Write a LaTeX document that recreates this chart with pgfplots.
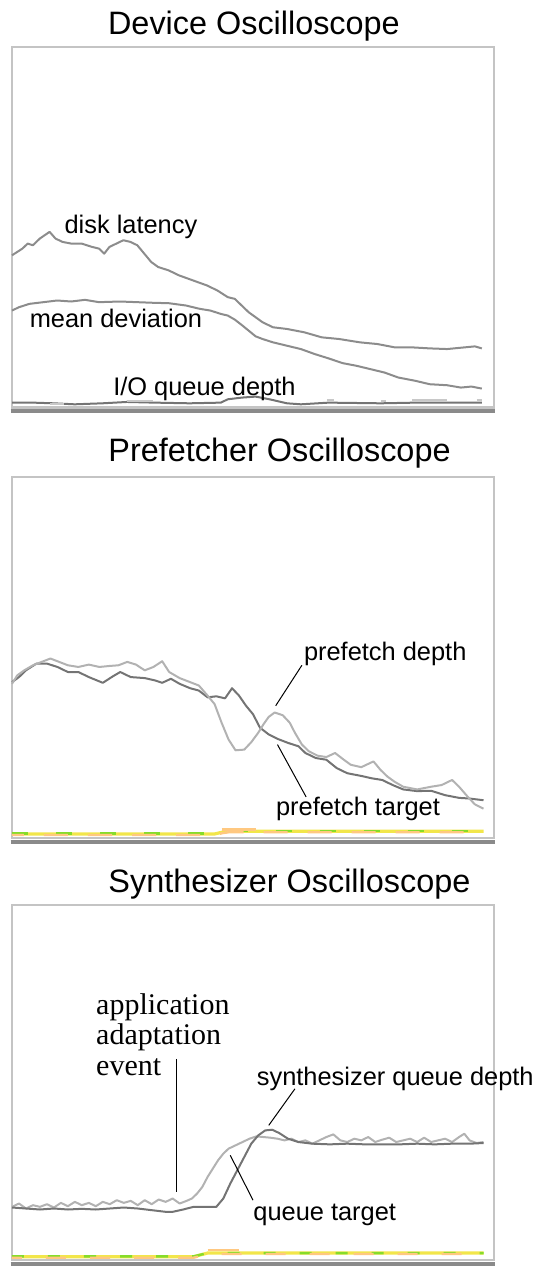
\documentclass[border=0pt]{standalone}
\usepackage{pgfplots}
\pgfplotsset{compat=1.18}
\usepackage{fontspec}
\setmainfont{Liberation Sans}
\newfontfamily\serifont{Liberation Serif}
\definecolor{framegray}{HTML}{C4C4C4}
\definecolor{darkframe}{HTML}{8A8A8A}
\definecolor{cdark}{HTML}{747474}
\definecolor{cmid}{HTML}{8C8C8C}
\definecolor{clight}{HTML}{B2B2B2}
\definecolor{cfaint}{HTML}{C8C8C8}
\definecolor{sy}{HTML}{F2E64A}
\definecolor{sg}{HTML}{86DC2A}
\definecolor{so}{HTML}{FFC880}
\newcommand\lab{\fontsize{12.7}{15}\selectfont}
\newcommand\ttl{\fontsize{16.2}{19}\selectfont}
\pgfplotsset{osc/.style={hide axis, scale only axis, width=241pt, clip=false, y dir=reverse, anchor=north west},
  curve/.style={line width=1pt, line join=round, mark=none}}
\begin{document}
\begin{tikzpicture}
\useasboundingbox (0,0) rectangle (272.5pt,-634pt);
% ---------------- Panel 1
\begin{axis}[osc, at={(6pt,-23.5pt)}, height=182pt, xmin=40, xmax=1425, ymin=148, ymax=1235, unbounded coords=jump]
\draw[framegray, line width=1.2pt] (axis cs:40,148) rectangle (axis cs:1425,1224);
\draw[darkframe, line width=2pt] (axis cs:36,1235) -- (axis cs:1429,1235);
\addplot[curve, cmid] coordinates {(40,770)(55,760)(70,750)(85,735)(100,740)(120,720)(148,700)(165,720)(185,730)(210,735)(240,735)(270,745)(290,750)(305,765)(320,745)(340,735)(360,725)(380,730)(400,740)(420,765)(440,790)(460,805)(490,815)(520,830)(560,845)(600,860)(630,875)(660,895)(680,900)(700,920)(720,940)(740,955)(760,970)(790,985)(830,990)(880,1000)(930,1015)(980,1020)(1040,1030)(1090,1035)(1140,1045)(1190,1045)(1240,1048)(1290,1050)(1340,1045)(1370,1042)(1390,1048)};
\addplot[curve, cmid] coordinates {(40,935)(60,925)(90,915)(130,910)(170,905)(210,908)(250,903)(290,910)(350,908)(400,910)(450,912)(490,913)(540,920)(580,930)(610,935)(640,945)(660,950)(680,962)(700,978)(720,995)(740,1012)(760,1020)(790,1030)(830,1040)(870,1050)(910,1065)(950,1078)(990,1092)(1030,1100)(1070,1110)(1110,1120)(1150,1135)(1200,1145)(1240,1155)(1290,1158)(1330,1165)(1360,1162)(1390,1168)};
\addplot[curve, cdark] coordinates {(40,1210)(100,1210)(160,1212)(220,1215)(300,1212)(370,1208)(450,1210)(550,1212)(640,1210)(660,1200)(700,1195)(740,1192)(780,1200)(830,1212)(870,1215)(950,1210)(1100,1212)(1200,1210)(1300,1210)(1390,1210)};
\addplot[curve, cfaint] coordinates {(150,1214)(190,1214) (nan,nan) (370,1206)(445,1206) (nan,nan) (945,1203)(965,1203) (nan,nan) (1100,1205)(1115,1205) (nan,nan) (1190,1203)(1290,1203) (nan,nan) (1375,1202)(1390,1202)};
\node[anchor=base west, inner sep=0pt, font=\ttl] at (axis cs:315,110) {Device Oscilloscope};
\node[anchor=base west, inner sep=0pt, font=\lab] at (axis cs:190,705) {disk latency};
\node[anchor=base west, inner sep=0pt, font=\lab] at (axis cs:90,985) {mean deviation};
\node[anchor=base west, inner sep=0pt, font=\lab] at (axis cs:330,1188) {I/O queue depth};
\end{axis}
% ---------------- Panel 2
\begin{axis}[osc, at={(6pt,-238.5pt)}, height=180.5pt, xmin=40, xmax=1420, ymin=182, ymax=1252]
\draw[framegray, line width=1.2pt] (axis cs:40,182) rectangle (axis cs:1420,1252);
\draw[darkframe, line width=2pt] (axis cs:36,1263) -- (axis cs:1424,1263);
\addplot[curve, cdark] coordinates {(40,790)(60,775)(80,755)(110,735)(140,735)(170,745)(200,760)(230,760)(260,775)(300,792)(330,772)(350,760)(380,775)(420,778)(450,785)(470,792)(495,780)(520,795)(550,808)(575,815)(600,835)(625,832)(650,838)(670,808)(690,830)(710,860)(730,885)(750,925)(775,945)(800,958)(830,970)(860,980)(880,1000)(910,1015)(940,1020)(970,1045)(1000,1060)(1040,1068)(1070,1075)(1100,1080)(1130,1095)(1160,1108)(1200,1113)(1240,1112)(1280,1125)(1320,1133)(1350,1135)(1390,1140)};
\addplot[curve, clight] coordinates {(40,795)(55,770)(75,755)(100,740)(130,728)(150,720)(175,730)(200,740)(230,745)(260,738)(290,745)(320,742)(345,740)(370,730)(395,738)(420,755)(445,745)(470,728)(490,760)(520,778)(550,790)(575,800)(600,830)(620,855)(640,910)(660,960)(680,992)(705,990)(725,968)(745,940)(760,915)(775,893)(792,880)(815,888)(835,910)(850,940)(870,975)(890,995)(915,1008)(940,1012)(965,1000)(990,1020)(1010,1035)(1040,1042)(1075,1025)(1095,1050)(1115,1070)(1135,1085)(1160,1100)(1200,1108)(1240,1100)(1270,1095)(1300,1080)(1320,1100)(1345,1130)(1365,1152)(1390,1165)};
\addplot[line width=1.6pt, sy] coordinates {(40,1240)(620,1240)(645,1234)(660,1232)(1390,1232)};
\addplot[line width=1.2pt, sg, dash pattern=on 8pt off 14pt] coordinates {(40,1239)(620,1239)(645,1233)(660,1231)(1390,1231)};
\addplot[line width=1.2pt, so, dash pattern=on 12pt off 10pt, dash phase=6pt] coordinates {(40,1243)(620,1243)(645,1237)(660,1235)(1390,1235)};
\addplot[line width=1.2pt, so] coordinates {(640,1227)(740,1227)};
\node[anchor=base west, inner sep=0pt, font=\ttl] at (axis cs:315,135) {Prefetcher Oscilloscope};
\node[anchor=base west, inner sep=0pt, font=\lab] at (axis cs:875,725) {prefetch depth};
\node[anchor=base west, inner sep=0pt, font=\lab] at (axis cs:795,1185) {prefetch target};
\draw[black, line width=0.5pt] (axis cs:870,740) -- (axis cs:795,860);
\draw[black, line width=0.5pt] (axis cs:800,975) -- (axis cs:882,1130);
\end{axis}
% ---------------- Panel 3
\begin{axis}[osc, at={(6pt,-452.5pt)}, height=179.5pt, xmin=40, xmax=1420, ymin=192, ymax=1272]
\draw[framegray, line width=1.2pt] (axis cs:40,192) rectangle (axis cs:1420,1260);
\draw[darkframe, line width=2pt] (axis cs:36,1272) -- (axis cs:1424,1272);
\addplot[curve, clight] coordinates {(40,1100)(60,1090)(80,1105)(100,1095)(120,1100)(140,1092)(160,1102)(180,1088)(200,1098)(220,1085)(240,1095)(260,1088)(280,1098)(300,1085)(320,1092)(340,1080)(360,1088)(380,1082)(400,1095)(420,1080)(440,1092)(460,1078)(480,1085)(500,1075)(520,1090)(540,1082)(555,1075)(570,1060)(585,1040)(600,1010)(615,985)(630,960)(645,940)(660,925)(680,915)(700,905)(720,895)(740,888)(760,890)(780,892)(800,895)(820,900)(840,895)(860,905)(880,900)(900,910)(920,900)(940,890)(960,882)(980,900)(1000,905)(1020,895)(1040,900)(1060,890)(1080,905)(1100,898)(1120,892)(1140,905)(1160,900)(1180,895)(1200,905)(1220,892)(1240,905)(1260,900)(1280,895)(1300,905)(1320,890)(1335,880)(1350,900)(1370,908)(1390,905)};
\addplot[curve, cdark] coordinates {(40,1102)(80,1105)(120,1108)(160,1105)(200,1108)(240,1106)(280,1108)(320,1105)(360,1102)(400,1105)(440,1110)(480,1115)(500,1115)(530,1108)(560,1100)(600,1100)(625,1100)(645,1075)(665,1030)(685,990)(705,950)(725,910)(745,885)(765,870)(785,868)(805,878)(830,895)(860,905)(900,910)(950,912)(1000,910)(1050,912)(1100,912)(1150,912)(1200,910)(1250,912)(1300,910)(1350,910)(1390,908)};
\addplot[line width=1.6pt, sy] coordinates {(40,1250)(560,1250)(600,1239)(1390,1239)};
\addplot[line width=1.2pt, sg, dash pattern=on 6pt off 12pt] coordinates {(40,1249)(560,1249)(600,1239)(1390,1239)};
\addplot[line width=1.2pt, so, dash pattern=on 10pt off 12pt, dash phase=5pt] coordinates {(40,1253)(560,1253)(600,1242)(1390,1242)};
\addplot[line width=1.2pt, so] coordinates {(600,1229)(690,1229)};
\node[anchor=base west, inner sep=0pt, font=\ttl] at (axis cs:315,155) {Synthesizer Oscilloscope};
\node[anchor=base west, inner sep=0pt, font={\serifont\fontsize{15}{17}\selectfont}] at (axis cs:280,520) {application};
\node[anchor=base west, inner sep=0pt, font={\serifont\fontsize{15}{17}\selectfont}] at (axis cs:280,612) {adaptation};
\node[anchor=base west, inner sep=0pt, font={\serifont\fontsize{15}{17}\selectfont}] at (axis cs:280,705) {event};
\draw[black, line width=0.6pt] (axis cs:512,655) -- (axis cs:512,1055);
\node[anchor=base west, inner sep=0pt, font=\lab] at (axis cs:740,735) {synthesizer queue depth};
\node[anchor=base west, inner sep=0pt, font=\lab] at (axis cs:730,1140) {queue target};
\draw[black, line width=0.5pt] (axis cs:850,745) -- (axis cs:775,855);
\draw[black, line width=0.5pt] (axis cs:665,945) -- (axis cs:730,1080);
\end{axis}
\end{tikzpicture}
\end{document}
